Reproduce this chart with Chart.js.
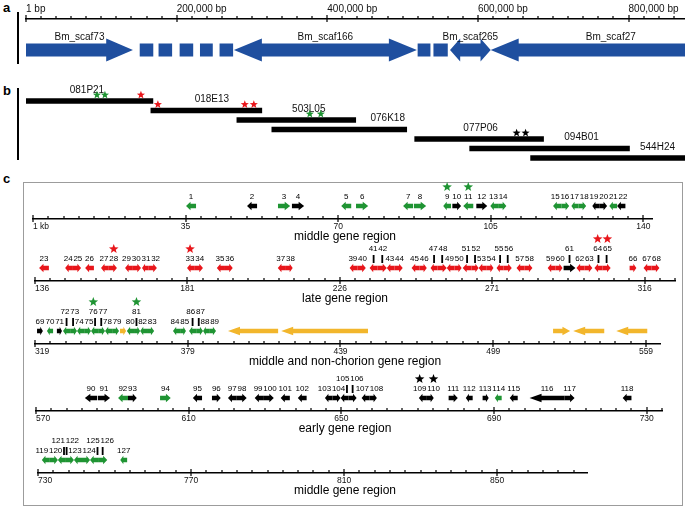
<!DOCTYPE html>
<html>
<head>
<meta charset="utf-8">
<title>Chorion locus map</title>
<script src="https://cdn.jsdelivr.net/npm/chart.js"></script>
<style>
  body { margin: 0; background: #fff; font-family: "Liberation Sans", Arial, sans-serif; }
  #page { position: relative; width: 685px; height: 508px; overflow: hidden; }
  #page canvas { position: absolute; left: 0; }
  .tag { position: absolute; left: 3px; font-weight: bold; font-size: 13px; line-height: 13px; }
  .vbar { position: absolute; left: 17px; width: 2px; background: #000; }
  .frame { position: absolute; left: 23px; top: 182px; width: 658px; height: 322px; border: 1.5px solid #9c9c9c; }
</style>
</head>
<body>
<div id="page">
  <div class="frame"></div>
  <div class="tag" style="top:1px">a</div>
  <div class="tag" style="top:84px">b</div>
  <div class="tag" style="top:172px">c</div>
  <div class="vbar" style="top:12px;height:52px"></div>
  <div class="vbar" style="top:88px;height:72px"></div>
  <canvas id="scaffolds" width="685" height="70" style="top:0"></canvas>
  <canvas id="bacs" width="685" height="92" style="top:78px"></canvas>
  <canvas id="row0" width="685" height="76"></canvas>
  <canvas id="row1" width="685" height="76"></canvas>
  <canvas id="row2" width="685" height="76"></canvas>
  <canvas id="row3" width="685" height="76"></canvas>
  <canvas id="row4" width="685" height="76"></canvas>
</div>
<script>
// ---- panel a: scaffolds (bp) ----
let RULER_MAX = 875000;
let rulerTicks = [0, 200000, 400000, 600000, 800000];
let rulerLabels = ['1 bp', '200,000 bp', '400,000 bp', '600,000 bp', '800,000 bp'];
let rulerMinor = 20000;

let scafNames = ['Bm_scaf73', 'Bm_scaf166', 'Bm_scaf265', 'Bm_scaf27'];
let scafStart = [0, 276000, 563000, 617000];
let scafEnd = [142000, 519000, 617000, 936000];
let scafDir = [1, 2, 2, -1];
let gapStart = [151000, 176000, 204000, 231000, 257000, 520000, 541000];
let gapEnd = [169000, 194000, 222000, 248000, 275000, 537000, 560000];

// ---- panel b: BAC clones (bp) ----
let bacNames = ['081P21', '018E13', '503L05', '076K18', '077P06', '094B01', '544H24'];
let bacStart = [0, 165800, 280000, 326400, 516100, 589100, 670000];
let bacEnd = [168500, 313100, 437800, 505500, 687200, 801300, 875000];
let bacLabelAt = [80900, 246800, 375500, 480300, 603600, 737600, 838500];
let bacStarPos = [94200, 104800, 152600, 175100, 290500, 302500, 376800, 391400, 651400, 663300];
let bacStarBac = [0, 0, 0, 1, 1, 1, 2, 2, 4, 4];
let bacStarCls = ['M', 'M', 'L', 'L', 'L', 'L', 'M', 'M', 'E', 'E'];

// ---- panel c: gene rows (kb) ----
let rowTitles = ['middle gene region', 'late gene region', 'middle and non-chorion gene region', 'early gene region', 'middle gene region'];
let rowMin = [0, 136, 319, 570, 730];
let rowMax = [142, 325, 564.5, 734, 873.5];
let rowMinor = [3.5, 4.5, 6, 4, 4];
let rowMajor = [35, 45, 60, 40, 40];
let rowFirstLabel = ['1 kb', '136', '319', '570', '730'];

// M middle, L late, E early, N non-chorion
let row1Names = ['1','2','3','4','5','6','7','8','9','10','11','12','13','14','15','16','17','18','19','20','21','22'];
let row1Start = [35.1, 49.1, 56.2, 59.4, 70.7, 74.1, 84.9, 87.4, 94.1, 96.2, 98.7, 101.7, 104.9, 106.7, 119.3, 121.2, 123.5, 125.1, 128.3, 129.9, 132.2, 134.0];
let row1End = [37.4, 51.4, 59.0, 62.2, 73.0, 76.9, 87.2, 90.2, 95.9, 98.2, 101.0, 104.2, 106.7, 108.6, 121.2, 123.0, 125.1, 126.9, 129.9, 131.7, 134.0, 135.9];
let row1Strand = [-1, -1, 1, 1, -1, 1, -1, 1, -1, 1, -1, 1, -1, 1, -1, 1, -1, 1, -1, 1, -1, -1];
let row1Cls = ['M','E','M','E','M','M','M','M','M','E','M','E','M','M','M','M','M','M','E','E','M','E'];
let row1Raised = [];
let row1Stars = ['9', '11'];

let row2Names = ['23','24','25','26','27','28','29','30','31','32','33','34','35','36','37','38','39','40','41','42','43','44','45','46','47','48','49','50','51','52','53','54','55','56','57','58','59','60','61','62','63','64','65','66','67','68'];
let row2Start = [137.2, 144.9, 147.2, 150.8, 155.5, 157.8, 162.6, 164.9, 167.6, 169.6, 180.9, 183.2, 189.7, 192.1, 207.7, 210.1, 228.9, 231.3, 234.8, 237.2, 239.9, 242.2, 247.2, 249.6, 252.8, 254.9, 257.6, 259.9, 262.3, 264.9, 267.0, 269.4, 272.3, 274.4, 278.2, 280.6, 287.4, 289.7, 292.1, 295.9, 298.3, 301.2, 303.6, 311.6, 315.7, 318.1];
let row2End = [140.1, 147.2, 149.6, 153.4, 157.8, 160.2, 164.9, 167.3, 169.6, 172.0, 183.2, 185.6, 192.1, 194.4, 210.1, 212.1, 231.3, 233.7, 237.2, 239.9, 242.2, 244.6, 249.6, 251.7, 254.9, 257.6, 259.9, 262.0, 264.9, 267.0, 269.4, 271.4, 274.4, 276.8, 280.6, 282.9, 289.7, 291.8, 295.6, 298.3, 300.6, 303.6, 306.0, 313.6, 318.1, 320.4];
let row2Strand = [-1, -1, 1, -1, -1, 1, -1, 1, -1, 1, -1, 1, -1, 1, -1, 1, -1, 1, -1, 1, -1, 1, -1, 1, -1, 1, -1, 1, -1, 1, -1, 1, -1, 1, -1, 1, -1, 1, 1, -1, 1, -1, 1, 1, -1, 1];
let row2Cls = row2Names.map(n => n === '61' ? 'E' : 'L');
let row2Raised = ['41', '42', '47', '48', '51', '52', '55', '56', '61', '64', '65'];
let row2Stars = ['28', '33', '64', '65'];

let row3Names = ['69','70','71','72','73','74','75','76','77','78','79','','80','81','82','83','84','85','86','87','88','89','','','','',''];
let row3Start = [319.8, 323.7, 327.6, 330.0, 332.8, 335.5, 338.3, 341.0, 343.8, 346.5, 349.3, 352.4, 355.1, 357.9, 360.3, 363.0, 373.2, 376.0, 379.5, 382.3, 385.0, 387.4, 394.8, 415.7, 522.5, 530.4, 547.3];
let row3End = [322.1, 326.1, 329.6, 332.8, 335.5, 338.3, 341.0, 343.8, 346.5, 349.3, 352.0, 354.8, 357.9, 360.3, 363.0, 365.8, 376.0, 378.3, 382.3, 385.0, 387.4, 390.1, 414.5, 449.8, 529.2, 542.6, 559.5];
let row3Strand = [1, -1, 1, -1, 1, -1, 1, -1, 1, -1, 1, 1, -1, 1, -1, 1, -1, 1, -1, 1, -1, 1, -1, -1, 1, -1, -1];
let row3Cls = ['E','M','E','M','M','M','M','M','M','M','M','N','M','M','M','M','M','M','M','M','M','M','N','N','N','N','N'];
let row3Raised = ['72', '73', '76', '77', '81', '86', '87'];
let row3Stars = ['76', '81'];

let row4Names = ['90','91','92','93','94','95','96','97','98','99','100','101','102','103','104','105','106','107','108','109','110','111','112','113','114','115','116','117','118'];
let row4Start = [582.8, 586.2, 591.5, 594.1, 602.5, 611.1, 616.1, 620.3, 622.6, 627.3, 629.7, 634.1, 638.6, 645.7, 647.7, 649.8, 651.9, 655.3, 657.4, 670.3, 672.4, 678.1, 682.6, 687.0, 690.2, 694.1, 699.3, 708.5, 723.7];
let row4End = [586.0, 589.4, 594.1, 596.4, 605.3, 613.5, 618.4, 622.6, 625.2, 629.7, 632.3, 636.5, 640.9, 647.7, 649.8, 651.9, 654.0, 657.4, 659.3, 672.4, 674.2, 680.5, 684.4, 688.6, 692.0, 696.2, 708.5, 711.1, 726.0];
let row4Strand = [-1, 1, -1, 1, 1, -1, 1, -1, 1, -1, 1, -1, -1, -1, 1, -1, 1, -1, 1, -1, 1, 1, -1, 1, -1, -1, -1, 1, -1];
let row4Cls = row4Names.map(n => (n === '92' || n === '94' || n === '114') ? 'M' : 'E');
let row4Raised = ['105', '106'];
let row4Stars = ['109', '110'];

let row5Names = ['119','120','121','122','123','124','125','126','127'];
let row5Start = [731.0, 733.1, 735.2, 737.3, 739.4, 741.5, 743.6, 745.7, 751.5];
let row5End = [733.1, 735.2, 737.3, 739.4, 741.5, 743.6, 745.7, 748.1, 753.3];
let row5Strand = [-1, 1, -1, 1, -1, 1, -1, 1, -1];
let row5Cls = row5Names.map(() => 'M');
let row5Raised = ['121', '122', '125', '126'];
let row5Stars = [];

// ---- drawing ----
let FONT = '"Liberation Sans", Arial, sans-serif';
let CLASS_COLORS = { M: '#1f9433', L: '#e8161b', E: '#000000', N: '#f2b62c' };
let BLUE = '#1f4f9f';
Chart.defaults.font.family = FONT;
Chart.defaults.color = '#000';

// page layout of each gene row: axis line y, pixel of min and max
let ROW_AXIS_Y = [219, 281, 344, 411, 473];
let ROW_LEFT = [33, 35, 35, 36, 38];
let ROW_RIGHT = [652, 675, 660, 662, 587];

let rows = [
  { names: row1Names, start: row1Start, end: row1End, strand: row1Strand, cls: row1Cls, raised: row1Raised, stars: row1Stars },
  { names: row2Names, start: row2Start, end: row2End, strand: row2Strand, cls: row2Cls, raised: row2Raised, stars: row2Stars },
  { names: row3Names, start: row3Start, end: row3End, strand: row3Strand, cls: row3Cls, raised: row3Raised, stars: row3Stars },
  { names: row4Names, start: row4Start, end: row4End, strand: row4Strand, cls: row4Cls, raised: row4Raised, stars: row4Stars },
  { names: row5Names, start: row5Start, end: row5End, strand: row5Strand, cls: row5Cls, raised: row5Raised, stars: row5Stars }
];

let arrowPath = function(ctx, x1, x2, y, dir, body, head, hl) {
    let b = body / 2, h = head / 2;
    let left = dir !== 1, right = dir !== -1;
    let a = left ? x1 + hl : x1, c = right ? x2 - hl : x2;
    ctx.beginPath();
    if (left) { ctx.moveTo(x1, y); ctx.lineTo(a, y - h); ctx.lineTo(a, y - b); }
    else { ctx.moveTo(x1, y - b); }
    if (right) { ctx.lineTo(c, y - b); ctx.lineTo(c, y - h); ctx.lineTo(x2, y); ctx.lineTo(c, y + h); ctx.lineTo(c, y + b); }
    else { ctx.lineTo(x2, y - b); ctx.lineTo(x2, y + b); }
    if (left) { ctx.lineTo(a, y + b); ctx.lineTo(a, y + h); }
    else { ctx.lineTo(x1, y + b); }
    ctx.closePath();
};

let drawStar = function(ctx, x, y, r, color) {
    ctx.beginPath();
    for (let i = 0; i < 10; i++) {
        let rr = i % 2 ? r * 0.42 : r;
        let ang = -Math.PI / 2 + i * Math.PI / 5;
        ctx.lineTo(x + rr * Math.cos(ang), y + rr * Math.sin(ang));
    }
    ctx.closePath();
    ctx.fillStyle = color;
    ctx.fill();
};

let drawTickMarks = function(ctx, scale, y) {
    ctx.fillStyle = '#000';
    scale.ticks.forEach(t => {
        if (t.end) return;
        let x = Math.round(scale.getPixelForValue(t.value));
        if (t.big) ctx.fillRect(x - 0.6, y - 4, 1.2, 7);
        else ctx.fillRect(x - 0.6, y - 3, 1.2, 3);
    });
};

// lay labels side by side around their wanted centres
let spread = function(items, gap) {
    let groups = [];
    items.slice().sort((p, q) => p.c - q.c).forEach(it => {
        let g = { items: [it], width: it.w, left: it.c - it.w / 2 };
        while (groups.length) {
            let p = groups[groups.length - 1];
            if (p.left + p.width + gap <= g.left) break;
            groups.pop();
            let merged = { items: p.items.concat(g.items), width: p.width + gap + g.width };
            let off = 0, sum = 0;
            merged.items.forEach(m => { sum += m.c - (off + m.w / 2); off += m.w + gap; });
            merged.left = sum / merged.items.length;
            g = merged;
        }
        groups.push(g);
    });
    groups.forEach(g => {
        let x = g.left;
        g.items.forEach(m => { m.x = x + m.w / 2; x += m.w + gap; });
    });
};

let makeTicks = function(min, max, step, major) {
    let t = [];
    for (let k = 0; min + k * step <= max + 1e-9; k++) {
        let v = +(min + k * step).toFixed(3);
        let q = (v - min) / major;
        t.push({ value: v, big: Math.abs(q - Math.round(q)) < 1e-6 });
    }
    if (t[t.length - 1].value < max) t.push({ value: max, end: true });
    return t;
};

let scafPlugin = {
    id: 'scaffoldTrack',
    afterDraw(chart) {
        let ctx = chart.ctx, xs = chart.scales.x, top = chart.chartArea.top;
        let y = top + 31;
        ctx.save();
        drawTickMarks(ctx, xs, top);
        ctx.fillStyle = BLUE;
        gapStart.forEach((s, k) => {
            let a = xs.getPixelForValue(s), b = xs.getPixelForValue(gapEnd[k]);
            ctx.fillRect(a, y - 6.5, b - a, 13);
        });
        ctx.font = '10px ' + FONT;
        ctx.textAlign = 'center';
        ctx.textBaseline = 'middle';
        scafNames.forEach((n, k) => {
            let a = xs.getPixelForValue(scafStart[k]), b = xs.getPixelForValue(scafEnd[k]);
            arrowPath(ctx, a, b, y, scafDir[k], 13, 23, Math.min(28, (b - a) * 0.25));
            ctx.fillStyle = BLUE;
            ctx.fill();
            ctx.fillStyle = '#111';
            ctx.fillText(n, (a + b) / 2, top + 18);
        });
        ctx.restore();
    }
};

let bacPlugin = {
    id: 'bacTrack',
    afterDatasetsDraw(chart) {
        let ctx = chart.ctx, xs = chart.scales.x;
        let bars = chart.getDatasetMeta(0).data;
        ctx.save();
        ctx.font = '10px ' + FONT;
        ctx.textAlign = 'center';
        ctx.textBaseline = 'middle';
        ctx.fillStyle = '#111';
        bacNames.forEach((n, k) => ctx.fillText(n, xs.getPixelForValue(bacLabelAt[k]), bars[k].y - 11));
        bacStarPos.forEach((p, k) => drawStar(ctx, xs.getPixelForValue(p), bars[bacStarBac[k]].y - 6, 4.3, CLASS_COLORS[bacStarCls[k]]));
        ctx.restore();
    }
};

let rowPlugin = {
    id: 'geneTrack',
    afterDraw(chart, args, opts) {
        let g = rows[opts.row];
        let ctx = chart.ctx, xs = chart.scales.x, base = chart.chartArea.bottom;
        ctx.save();
        drawTickMarks(ctx, xs, base);
        let items = g.names.map((name, k) => {
            let a = xs.getPixelForValue(g.start[k]), b = xs.getPixelForValue(g.end[k]);
            return { name: name, a: a, b: b, c: (a + b) / 2, k: k };
        });
        items.forEach(it => {
            arrowPath(ctx, it.a, it.b, base - 13, g.strand[it.k], 4.5, 8.5, Math.min(12, (it.b - it.a) * 0.45));
            ctx.fillStyle = CLASS_COLORS[g.cls[it.k]];
            ctx.fill();
        });
        ctx.font = '8px ' + FONT;
        let lower = [], upper = [];
        items.forEach(it => {
            if (!it.name) return;
            let w = ctx.measureText(it.name).width;
            if (g.raised.indexOf(it.name) >= 0) {
                it.conn = { c: it.c, w: 1.8 };
                lower.push(it.conn);
                it.label = { w: w, text: it.name, y: base - 32 };
                upper.push(it);
            } else {
                it.label = { c: it.c, w: w, text: it.name, y: base - 22 };
                lower.push(it.label);
            }
        });
        spread(lower, 0.8);
        upper.forEach(it => { it.label.c = it.conn.x; });
        spread(upper.map(it => it.label), 0.8);
        ctx.fillStyle = '#000';
        ctx.textAlign = 'center';
        ctx.textBaseline = 'middle';
        items.forEach(it => {
            if (!it.label) return;
            ctx.fillText(it.label.text, it.label.x, it.label.y);
            if (it.conn) ctx.fillRect(it.conn.x - 0.9, base - 26, 1.8, 8);
        });
        g.stars.forEach(n => {
            let it = items.find(m => m.name === n);
            drawStar(ctx, it.label.x, it.label.y - 10, 5, CLASS_COLORS[g.cls[it.k]]);
        });
        ctx.fillStyle = '#000';
        ctx.font = '12px ' + FONT;
        ctx.fillText(rowTitles[opts.row], 345, base + 18);
        ctx.restore();
    }
};

window.onload = function() {
    new Chart(document.getElementById('scaffolds'), {
        type: 'scatter',
        data: { datasets: [{ data: [] }] },
        options: {
            responsive: false, animation: false, events: [],
            layout: { padding: { left: 26, right: 0, top: 0, bottom: 0 } },
            plugins: { legend: { display: false }, tooltip: { enabled: false } },
            scales: {
                x: {
                    type: 'linear', position: 'top', min: 0, max: RULER_MAX, bounds: 'data',
                    afterBuildTicks: s => { s.ticks = makeTicks(0, RULER_MAX, rulerMinor, 200000); },
                    afterFit: s => { s.height = 19; s.paddingLeft = 0; s.paddingRight = 0; },
                    grid: { display: false, drawTicks: false, tickLength: 0 },
                    border: { display: true, color: '#000', width: 1.4 },
                    ticks: {
                        autoSkip: false, maxRotation: 0, align: 'start', padding: 4, color: '#111',
                        font: { size: 10 },
                        callback: v => { let i = rulerTicks.indexOf(v); return i >= 0 ? rulerLabels[i] : ''; }
                    }
                },
                y: { display: false, min: 0, max: 1 }
            }
        },
        plugins: [scafPlugin]
    });

    new Chart(document.getElementById('bacs'), {
        type: 'bar',
        data: {
            labels: bacNames,
            datasets: [{ data: bacStart.map((s, k) => [s, bacEnd[k]]), backgroundColor: '#000', barThickness: 5, borderWidth: 0 }]
        },
        options: {
            indexAxis: 'y', responsive: false, animation: false, events: [],
            layout: { padding: { left: 26, right: 0, top: 18.25, bottom: 7.25 } },
            plugins: { legend: { display: false }, tooltip: { enabled: false } },
            scales: {
                x: { type: 'linear', display: false, min: 0, max: RULER_MAX },
                y: { display: false }
            }
        },
        plugins: [bacPlugin]
    });

    rows.forEach((g, i) => {
        let canvas = document.getElementById('row' + i);
        canvas.style.top = (ROW_AXIS_Y[i] - 50) + 'px';
        let min = rowMin[i], max = rowMax[i];
        new Chart(canvas, {
            type: 'scatter',
            data: { datasets: [{ data: [] }] },
            options: {
                responsive: false, animation: false, events: [],
                layout: { padding: { left: ROW_LEFT[i], right: 685 - ROW_RIGHT[i], top: 0, bottom: 0 } },
                plugins: { legend: { display: false }, tooltip: { enabled: false }, geneTrack: { row: i } },
                scales: {
                    x: {
                        type: 'linear', min: min, max: max, bounds: 'data',
                        afterBuildTicks: s => { s.ticks = makeTicks(min, max, rowMinor[i], rowMajor[i]); },
                        afterFit: s => { s.height = 26; s.paddingLeft = 0; s.paddingRight = 0; },
                        grid: { display: false, drawTicks: false, tickLength: 0 },
                        border: { display: true, color: '#000', width: 1.4 },
                        ticks: {
                            autoSkip: false, maxRotation: 0, align: 'inner', padding: 3, color: '#111',
                            font: { size: 8.5 },
                            callback: (v, idx, ticks) => {
                                let t = ticks[idx];
                                if (!t.big) return '';
                                return idx === 0 ? rowFirstLabel[i] : String(v);
                            }
                        }
                    },
                    y: { display: false, min: 0, max: 1 }
                }
            },
            plugins: [rowPlugin]
        });
    });
};
</script>
</body>
</html>
